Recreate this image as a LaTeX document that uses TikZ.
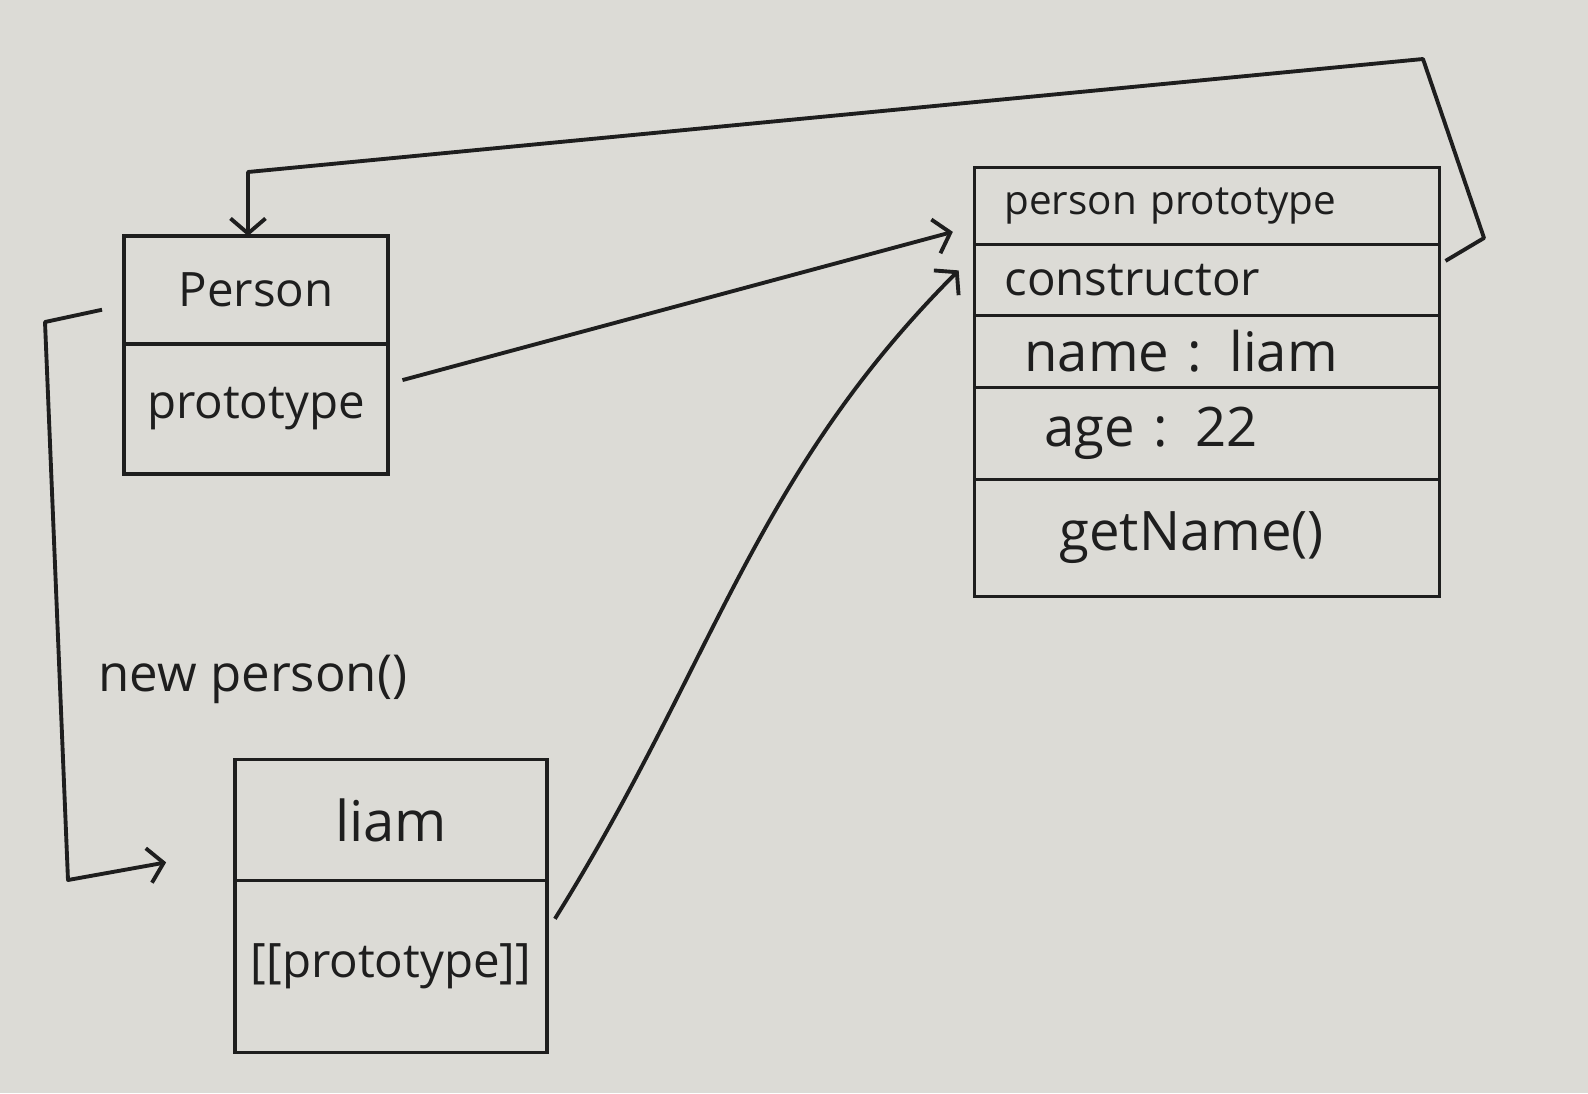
\documentclass[tikz,border=0pt]{standalone}
\usepackage{fontspec}
\setmainfont{Open Sans}
\usetikzlibrary{arrows.meta,positioning}
\definecolor{papercolor}{RGB}{220,219,214}
\definecolor{inkcolor}{RGB}{30,30,30}

\begin{document}
\begin{tikzpicture}[
    x=0.02cm, y=-0.02cm,
    ink/.style={draw=inkcolor, line width=2.2pt},
    cell/.style={ink, outer sep=0pt, inner sep=0pt, text=inkcolor, font=\fontsize{27}{32}\selectfont},
    protocell/.style={cell, minimum width=9.3cm, text width=8.1cm, align=left},
    bigtext/.style={font=\fontsize{31}{36}\selectfont},
    link/.style={ink, line join=round, -{Straight Barb[length=3mm,width=7mm,line width=2.2pt]}}
]
\fill[papercolor] (0,0) rectangle (1588,1093);
\useasboundingbox (0,0) rectangle (1588,1093);

% Person constructor
\node[cell, minimum width=5.28cm, minimum height=2.16cm] (personhead) at (256,290) {Person};
\node[cell, minimum width=5.28cm, minimum height=2.6cm, below=0pt of personhead] (personproto) {prototype};

% prototype object
\node[protocell, minimum height=1.54cm, font=\fontsize{23}{28}\selectfont] (protohead) at (1207,206) {person prototype};
\node[protocell, minimum height=1.42cm, below=0pt of protohead] (protoctor) {constructor};
\node[protocell, bigtext, minimum height=1.44cm, below=0pt of protoctor] (protoname) {\hspace{0.4cm}name : liam};
\node[protocell, bigtext, minimum height=1.84cm, below=0pt of protoname] (protoage) {\hspace{0.8cm}age : 22};
\node[protocell, bigtext, minimum height=2.34cm, below=0pt of protoage] (protogetname) {\hspace{1.1cm}getName()};

% instance
\node[cell, minimum width=6.24cm, minimum height=2.42cm, font=\fontsize{32}{36}\selectfont] (liamhead) at (391,820) {liam};
\node[cell, minimum width=6.24cm, minimum height=3.44cm, below=0pt of liamhead] (liamproto) {[[prototype]]};

\node[text=inkcolor, font=\fontsize{29}{34}\selectfont] (newlabel) at (253,679) {new person()};

\coordinate (ctortop) at (45,322);
\coordinate (ctorbottom) at (68,880);
\coordinate (loopright) at (1484,238);
\coordinate (looptop) at (1423,59);
\coordinate (loopleft) at (248,172);

% links
\draw[link, shorten <=0.3cm, shorten >=0.45cm] ([yshift=0.5cm]personproto.east) -- ([yshift=-0.4cm]protohead.west);
\draw[link, shorten <=0.3cm, shorten >=0.45cm] ([yshift=0.7cm]liamproto.east) to[out=58, in=225] ([yshift=-0.2cm]protohead.south west);
\draw[link, shorten <=4pt] ([yshift=-0.4cm]protoctor.north east) -- (loopright) -- (looptop) -- (loopleft) -- (loopleft |- personhead.north);
\draw[link, shorten <=0.45cm, shorten >=1.4cm] ([yshift=-0.3cm]personhead.west) -- (ctortop) -- (ctorbottom) -- ([yshift=-0.6cm]liamhead.west);
\end{tikzpicture}
\end{document}
